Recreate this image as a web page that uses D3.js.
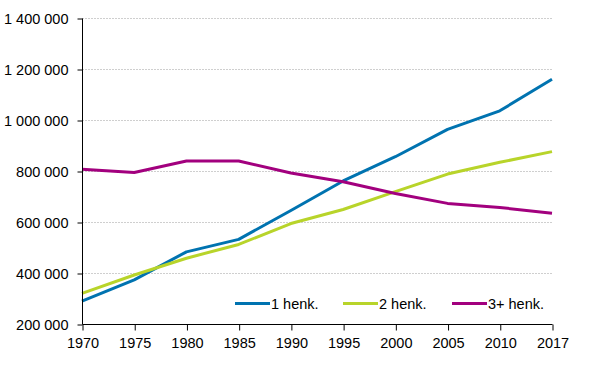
<!DOCTYPE html>
<html><head><meta charset="utf-8">
<script src="https://cdn.jsdelivr.net/npm/d3@7"></script>
<style>body{margin:0;background:#fff;}svg{display:block;font-family:"Liberation Sans",Arial,sans-serif;}</style>
</head><body>
<svg id="c" width="614" height="378"></svg>
<script>
const years = ["1970","1975","1980","1985","1990","1995","2000","2005","2010","2017"];
const henk1 = [290000,373000,483000,532000,645000,761000,856000,963000,1036000,1160000];
const henk2 = [320000,392000,458000,512000,594000,649000,719000,788000,834000,876000];
const henk3 = [807000,794000,839000,839000,792000,758000,712000,673000,657000,634000];
const seriesNames = ["1 henk.","2 henk.","3+ henk."];
const colors = ["#0073b0","#b8d42a","#a2007e"];
const yTicks = [200000,400000,600000,800000,1000000,1200000,1400000];

const svg = d3.select("#c");
const L = 82, R = 552, T = 18, B = 324;
const x = d3.scalePoint().domain(years).range([L, R]);
const y = d3.scaleLinear().domain([200000,1400000]).range([B, T]);
const fmt = v => d3.format(",")(v).replace(/,/g, " ");

// gridlines
svg.append("g").selectAll("line").data(yTicks.filter(d => d > 200000)).join("line")
  .attr("x1", L).attr("x2", R).attr("y1", d => y(d)+0.5).attr("y2", d => y(d)+0.5)
  .attr("stroke", "#cfcfcf").attr("stroke-width", 1).attr("stroke-dasharray", "2,1");

// lines
const data = [henk1, henk2, henk3];
const line = d3.line().x((d,i) => x(years[i])).y(d => y(d));
svg.append("g").selectAll("path").data(data).join("path")
  .attr("d", line).attr("fill", "none")
  .attr("stroke", (d,i) => colors[i]).attr("stroke-width", 3)
  .attr("stroke-linejoin", "round");

// axes
const yAxis = d3.axisLeft(y).tickValues(yTicks).tickFormat(fmt).tickSize(5).tickPadding(9);
const gy = svg.append("g").attr("transform", `translate(${L+0.5},0.5)`).call(yAxis);
const xAxis = d3.axisBottom(x).tickSize(6).tickPadding(7);
const gx = svg.append("g").attr("transform", `translate(0.5,${B+0.5})`).call(xAxis);
[gy, gx].forEach(g => {
  g.select(".domain").attr("stroke", "#000").attr("d", null);
  g.selectAll(".tick line").attr("stroke", "#000");
  g.selectAll("text").attr("fill", "#000").style("font-size", "14.5px").style("font-family", '"Liberation Sans", Arial, sans-serif');
});
gy.select(".domain").attr("d", `M0,${B}V${T}`);
gx.select(".domain").attr("d", `M${L},0H${R}`);

// legend
const legX = [235, 343, 452];
const lg = svg.append("g").selectAll("g").data(seriesNames).join("g")
  .attr("transform", (d,i) => `translate(${legX[i]},303.5)`);
lg.append("line").attr("x1", 0).attr("x2", 35).attr("y1", 0).attr("y2", 0)
  .attr("stroke", (d,i) => colors[i]).attr("stroke-width", 3);
lg.append("text").attr("x", 36).attr("y", 5.5).text(d => d)
  .style("font-size", "14.5px").attr("fill", "#000");
</script>
</body></html>
